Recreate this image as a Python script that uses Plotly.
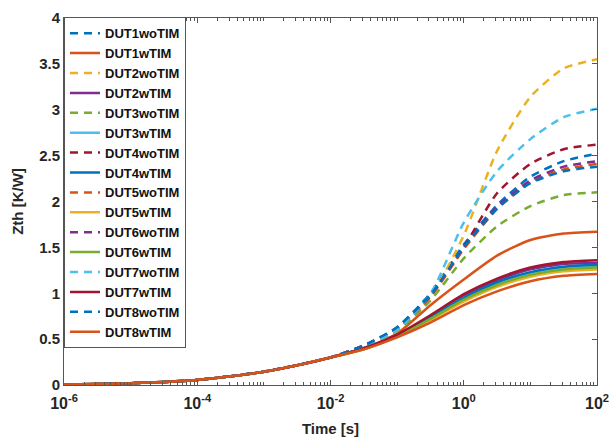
import plotly.graph_objects as go

# time axis (s)
time_s = [1e-6, 3.16e-6, 1e-5, 3.16e-5, 1e-4, 3.16e-4, 1e-3, 3.16e-3, 1e-2,
          3.16e-2, 1e-1, 3.16e-1, 1.0, 3.16, 10.0, 31.6, 100.0]

# common early part (t <= 1e-2), identical for all devices
early = [0.005, 0.01, 0.02, 0.033, 0.055, 0.095, 0.145, 0.215, 0.30]

# values from 3.16e-2 s to 100 s
DUT1woTIM = early + [0.43, 0.63, 1.00, 1.53, 1.96, 2.27, 2.44, 2.52]
DUT1wTIM  = early + [0.40, 0.56, 0.87, 1.15, 1.41, 1.58, 1.65, 1.67]
DUT2woTIM = early + [0.42, 0.59, 0.96, 1.63, 2.55, 3.14, 3.45, 3.55]
DUT2wTIM  = early + [0.40, 0.54, 0.75, 0.97, 1.14, 1.26, 1.32, 1.33]
DUT3woTIM = early + [0.42, 0.59, 0.92, 1.38, 1.73, 1.95, 2.07, 2.10]
DUT3wTIM  = early + [0.40, 0.54, 0.74, 0.95, 1.11, 1.22, 1.28, 1.30]
DUT4woTIM = early + [0.43, 0.61, 0.97, 1.50, 2.09, 2.41, 2.57, 2.62]
DUT4wTIM  = early + [0.40, 0.54, 0.74, 0.95, 1.12, 1.23, 1.29, 1.31]
DUT5woTIM = early + [0.43, 0.61, 0.96, 1.48, 1.92, 2.21, 2.35, 2.41]
DUT5wTIM  = early + [0.39, 0.53, 0.71, 0.91, 1.07, 1.18, 1.24, 1.26]
DUT6woTIM = early + [0.43, 0.62, 0.97, 1.50, 1.94, 2.23, 2.38, 2.44]
DUT6wTIM  = early + [0.39, 0.53, 0.72, 0.93, 1.09, 1.20, 1.26, 1.28]
DUT7woTIM = early + [0.42, 0.60, 0.99, 1.77, 2.33, 2.68, 2.92, 3.01]
DUT7wTIM  = early + [0.40, 0.55, 0.76, 0.99, 1.16, 1.28, 1.34, 1.36]
DUT8woTIM = early + [0.43, 0.63, 0.98, 1.50, 1.92, 2.20, 2.33, 2.38]
DUT8wTIM  = early + [0.39, 0.52, 0.68, 0.87, 1.02, 1.13, 1.19, 1.21]

series_names = ["DUT1woTIM", "DUT1wTIM", "DUT2woTIM", "DUT2wTIM", "DUT3woTIM", "DUT3wTIM",
                "DUT4woTIM", "DUT4wTIM", "DUT5woTIM", "DUT5wTIM", "DUT6woTIM", "DUT6wTIM",
                "DUT7woTIM", "DUT7wTIM", "DUT8woTIM", "DUT8wTIM"]
series_values = [DUT1woTIM, DUT1wTIM, DUT2woTIM, DUT2wTIM, DUT3woTIM, DUT3wTIM,
                 DUT4woTIM, DUT4wTIM, DUT5woTIM, DUT5wTIM, DUT6woTIM, DUT6wTIM,
                 DUT7woTIM, DUT7wTIM, DUT8woTIM, DUT8wTIM]

colors = ["#0072BD", "#D95319", "#EDB120", "#7E2F8E", "#77AC30", "#4DBEEE", "#A2142F"]

x_tickvals = [1e-6, 1e-4, 1e-2, 1, 100]
x_ticktext = ["10<sup>-6</sup>", "10<sup>-4</sup>", "10<sup>-2</sup>", "10<sup>0</sup>", "10<sup>2</sup>"]
x_minor = [m * 10.0 ** e for e in range(-6, 2) for m in range(1, 10)][1:] + [100.0]
y_tickvals = [0, 0.5, 1, 1.5, 2, 2.5, 3, 3.5, 4]
y_ticktext = ["0", "0.5", "1", "1.5", "2", "2.5", "3", "3.5", "4"]

FONT = "Arial, Liberation Sans, sans-serif"

fig = go.Figure()
for i, (name, vals) in enumerate(zip(series_names, series_values)):
    dashed = "wo" in name
    fig.add_trace(go.Scatter(
        x=time_s, y=vals, name=name, mode="lines",
        line=dict(color=colors[i % 7], width=2.5,
                  dash="8px,6px" if dashed else "solid",
                  shape="spline", smoothing=0.6),
    ))

axis_common = dict(
    showline=True, linecolor="#555555", linewidth=1, mirror="ticks",
    ticks="inside", ticklen=5, tickcolor="#555555", showgrid=False, zeroline=False,
)

fig.update_xaxes(
    type="log", range=[-6, 2], tickmode="array", tickvals=x_tickvals, ticktext=x_ticktext,
    minor=dict(ticks="inside", ticklen=3, tickcolor="#555555", tickmode="array",
               tickvals=x_minor, showgrid=False),
    tickfont=dict(family=FONT, size=16, color="#262626", weight="bold"),
    ticklabelstandoff=4,
    title=dict(text="<b>Time [s]</b>", font=dict(family=FONT, size=15, color="#262626"),
               standoff=12),
    **axis_common,
)
fig.update_yaxes(
    range=[0, 4], tickmode="array", tickvals=y_tickvals, ticktext=y_ticktext,
    tickfont=dict(family=FONT, size=15, color="#262626", weight="bold"),
    title=dict(text="<b>Zth [K/W]</b>", font=dict(family=FONT, size=15, color="#262626"),
               standoff=11),
    **axis_common,
)

fig.update_layout(
    width=611, height=441,
    margin=dict(l=64, r=14, t=18, b=56, autoexpand=False),
    paper_bgcolor="white", plot_bgcolor="white",
    showlegend=True,
    legend=dict(x=0, y=1.002, xanchor="left", yanchor="top",
                bgcolor="white", bordercolor="#555555", borderwidth=1,
                font=dict(family=FONT, size=13, color="#111111", weight="bold"),
                itemwidth=30, tracegroupgap=0, maxheight=420),
)

fig.write_html("out.html")
